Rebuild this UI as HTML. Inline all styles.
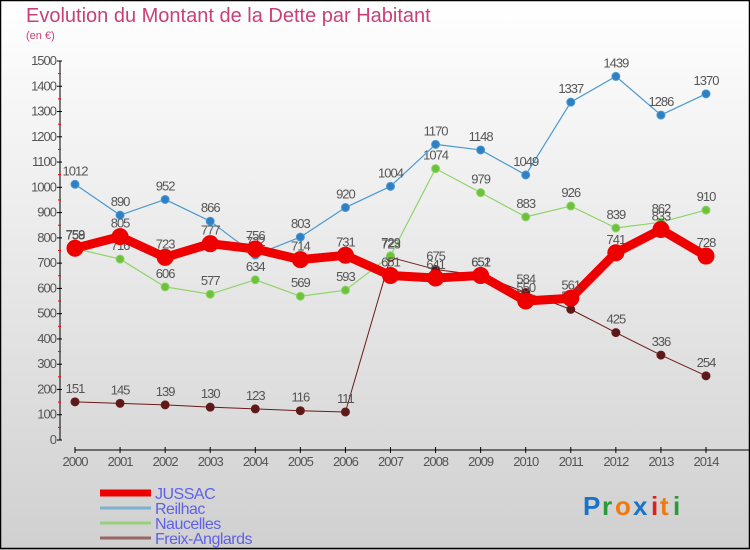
<!DOCTYPE html>
<html><head><meta charset="utf-8"><style>
body{margin:0}
#c{width:750px;height:550px;position:relative;overflow:hidden;font-family:"Liberation Sans",sans-serif}
</style></head><body>
<div id="c">
<svg id="s" width="750" height="550" xmlns="http://www.w3.org/2000/svg">
<defs><linearGradient id="bg" x1="0" y1="0" x2="0" y2="1"><stop offset="0" stop-color="#ffffff"/><stop offset="1" stop-color="#d0d0d0"/></linearGradient></defs>
<rect x="0" y="0" width="750" height="550" fill="url(#bg)"/>
<rect x="0.5" y="0.5" width="749" height="548" fill="none" stroke="#000" stroke-width="1.5"/>
<text x="26" y="22" font-size="20" fill="#c8407a">Evolution du Montant de la Dette par Habitant</text>
<text x="26" y="39" font-size="11" fill="#c8407a">(en €)</text>
<g id="axes"></g>
<g id="series"></g>
<g id="legend"></g>
<g font-size="26" font-weight="bold">
<text x="583" y="515" fill="#1a73c9">P</text><text x="602" y="515" fill="#2a9a3a">r</text><text x="615" y="515" fill="#f07a10">o</text><text x="633" y="515" fill="#1a73c9">x</text><text x="651" y="515" fill="#e02020">i</text><text x="660" y="515" fill="#f07a10">t</text><text x="673" y="515" fill="#2a9a3a">i</text>
</g>
</svg>
</div>
<script>
const years=[2000,2001,2002,2003,2004,2005,2006,2007,2008,2009,2010,2011,2012,2013,2014];
const yTicks=[0,100,200,300,400,500,600,700,800,900,1000,1100,1200,1300,1400,1500];
const jussac=[759,805,723,777,756,714,731,651,641,651,550,561,741,833,728];
const reilhac=[1012,890,952,866,732,803,920,1004,1170,1148,1049,1337,1439,1286,1370];
const naucelles=[758,716,606,577,634,569,593,729,1074,979,883,926,839,862,910];
const freix=[151,145,139,130,123,116,111,723,675,652,584,517,425,336,254];
const seriesNames=["JUSSAC","Reilhac","Naucelles","Freix-Anglards"];
const NS="http://www.w3.org/2000/svg";
const x=i=>75+i*(706-75)/(years.length-1);
const y=v=>440-v*(440-61)/1500;
function mk(tag,attrs,parent){const e=document.createElementNS(NS,tag);for(const k in attrs)e.setAttribute(k,attrs[k]);parent.appendChild(e);return e;}
const ax=document.getElementById('axes');
mk('line',{x1:60,y1:61,x2:60,y2:440,stroke:'#000'},ax);
yTicks.forEach((t,i)=>{
  const l=mk('line',{x1:57,y1:y(t),x2:62,y2:y(t),stroke:'#000'},ax);
  
  
  if(i<yTicks.length-1){mk('line',{x1:58,y1:y(t+50),x2:61,y2:y(t+50),stroke:'#f00'},ax);}
  const tx=mk('text',{x:56,y:y(t)+4,'text-anchor':'end','font-size':13,fill:'#555','letter-spacing':'-1'},ax);
  tx.textContent=t;
  
  
});
mk('line',{x1:75,y1:450,x2:750,y2:450,stroke:'#000'},ax);
years.forEach((yr,i)=>{
  mk('line',{x1:x(i),y1:447,x2:x(i),y2:453,stroke:'#000'},ax);
  const tx=mk('text',{x:x(i),y:466,'text-anchor':'middle','font-size':13,fill:'#555','letter-spacing':'-1'},ax);
  tx.textContent=yr;
  
  
});
const sg=document.getElementById('series');
function draw(data,color,w,r,name,fill){
  const g=mk('g',{},sg);
  
  
  mk('polyline',{points:data.map((v,i)=>x(i)+','+y(v)).join(' '),fill:'none',stroke:color,'stroke-width':w,'stroke-linejoin':'round'},g);
  data.forEach((v,i)=>{
    const c=mk('circle',{cx:x(i),cy:y(v),r:r,fill:fill,stroke:color,'stroke-width':1},g);
    
    
    const t=mk('text',{x:x(i),y:y(v)-9,'text-anchor':'middle','font-size':13,fill:'#555','letter-spacing':'-1'},g);
    t.textContent=v;
  });
}
draw(freix,'#6b1a1a',1,4,'freix-anglards','#5a1a1a');
draw(naucelles,'#8fd36a',1.2,4,'naucelles','#6cc23a');
draw(reilhac,'#4a9ad0',1.2,4,'reilhac','#2f7fc4');
draw(jussac,'#ee0000',9,8,'jussac','#ee0000');
const lg=document.getElementById('legend');
const lcol=['#ee0000','#7eb0d0','#98d07e','#996666'];
const lw=[7,3,3,3];
seriesNames.forEach((n,i)=>{
  const yy=493+i*15;
  const g=mk('g',{},lg);
  
  
  mk('line',{x1:100,y1:yy,x2:151,y2:yy,stroke:lcol[i],'stroke-width':lw[i]},g);
  const t=mk('text',{x:155,y:yy+6,'font-size':16,fill:'#6060e8','letter-spacing':'-0.5'},g);
  t.textContent=n;
});
</script>
</body></html>
